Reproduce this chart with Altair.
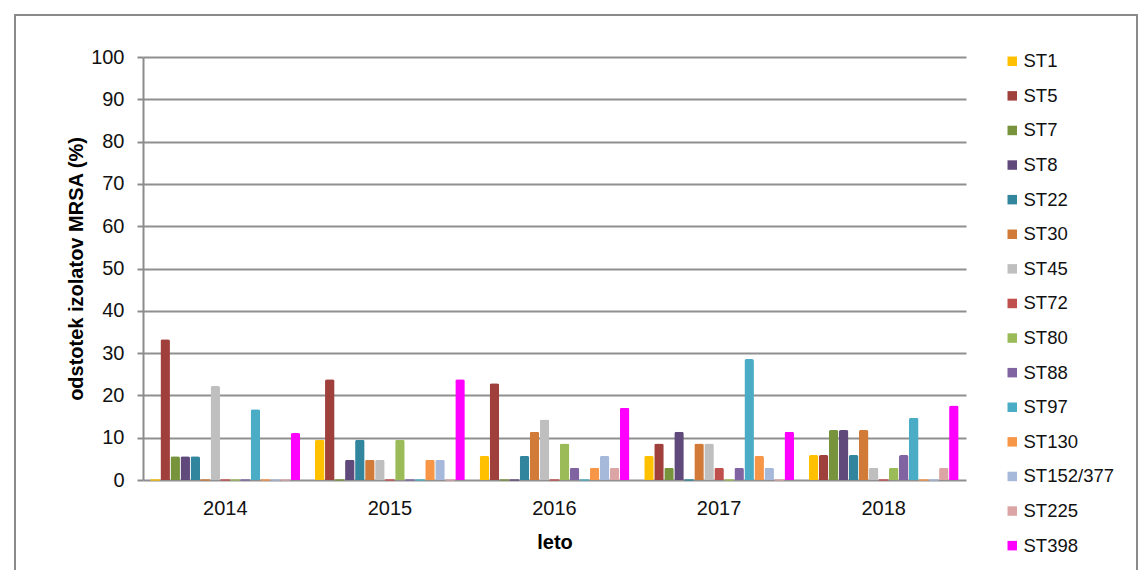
import altair as alt
import pandas as pd

years = ["2014", "2015", "2016", "2017", "2018"]
series = ["ST1", "ST5", "ST7", "ST8", "ST22", "ST30", "ST45", "ST72", "ST80",
          "ST88", "ST97", "ST130", "ST152/377", "ST225", "ST398"]
colors = ["#FFC000", "#A0403C", "#77933C", "#604A7B", "#31859C", "#D27B38",
          "#BFBFBF", "#C0504D", "#9BBB59", "#8064A2", "#4BACC6", "#F79646",
          "#A6B9DA", "#DAA5A4", "#FF00FF"]

# values (%) per series, in order of years
v2014 = [0, 33.3, 5.6, 5.6, 5.6, 0, 22.2, 0, 0, 0, 16.7, 0, 0, 0, 11.1]
v2015 = [9.5, 23.8, 0, 4.8, 9.5, 4.8, 4.8, 0, 9.5, 0, 0, 4.8, 4.8, 0, 23.8]
v2016 = [5.7, 22.9, 0, 0, 5.7, 11.4, 14.3, 0, 8.6, 2.9, 0, 2.9, 5.7, 2.9, 17.1]
v2017 = [5.7, 8.6, 2.9, 11.4, 0, 8.6, 8.6, 2.9, 0, 2.9, 28.6, 5.7, 2.9, 0, 11.4]
v2018 = [5.9, 5.9, 11.8, 11.8, 5.9, 11.8, 2.9, 0, 2.9, 5.9, 14.7, 0, 0, 2.9, 17.6]

rows = []
for yr, vals in zip(years, [v2014, v2015, v2016, v2017, v2018]):
    for s, v in zip(series, vals):
        rows.append({"leto": yr, "ST": s, "val": v})
df = pd.DataFrame(rows)

FONT = "Liberation Sans"

x_enc = alt.X("leto:N", sort=years,
              scale=alt.Scale(paddingInner=0.09, paddingOuter=0.045),
              axis=alt.Axis(title="leto", labelAngle=0, labelFontSize=20,
                            labelColor="#111", labelPadding=18, tickSize=0,
                            domain=False, titleFontSize=20, titleFontWeight="bold",
                            titlePadding=14, titleColor="#000"))
xo_enc = alt.XOffset("ST:N", sort=series, scale=alt.Scale(paddingInner=0.05))
color_enc = alt.Color("ST:N", sort=series,
                      scale=alt.Scale(domain=series, range=colors),
                      legend=alt.Legend(title=None, orient="none", legendX=860,
                                        legendY=-5, symbolType="square",
                                        symbolSize=90, symbolStrokeWidth=0,
                                        labelFontSize=18.5, labelFont=FONT,
                                        labelColor="#111", rowPadding=15.6,
                                        labelOffset=2))

bars = alt.Chart(df).mark_bar(cornerRadiusTopLeft=2, cornerRadiusTopRight=2).encode(
    x=x_enc,
    xOffset=xo_enc,
    y=alt.Y("val:Q", scale=alt.Scale(domain=[0, 100]),
            axis=alt.Axis(title="odstotek izolatov MRSA (%)", values=list(range(0, 101, 10)),
                          labelFontSize=20, labelColor="#111", labelPadding=13,
                          tickSize=6, tickColor="#8c8c8c", tickWidth=2,
                          domainColor="#8c8c8c", domainWidth=2,
                          gridColor="#8f8f8f", gridWidth=2,
                          titleFontSize=20, titleFontWeight="bold", titleColor="#000",
                          titlePadding=4)),
    color=color_enc,
)

zeros = alt.Chart(df).transform_filter("datum.val == 0").mark_tick(
    thickness=2, orient="horizontal").encode(
    x=alt.X("leto:N", sort=years),
    xOffset=alt.XOffset("ST:N", sort=series),
    y=alt.Y("val:Q"),
    color=alt.Color("ST:N", sort=series, legend=None),
)

frame = alt.Chart(pd.DataFrame({"a": [0]})).mark_rect(
    fill=None, stroke="#8a8a8a", strokeWidth=2).encode(
    x=alt.value(-128), x2=alt.value(994), y=alt.value(-42), y2=alt.value(540))

chart = alt.layer(frame, bars, zeros).properties(
    width=823, height=423,
    autosize=alt.AutoSizeParams(type="none"),
    padding={"left": 135, "top": 49, "right": 172, "bottom": 90},
).configure(font=FONT).configure_view(stroke=None)

chart.save("out.html", embed_options={"renderer": "svg", "actions": False})
